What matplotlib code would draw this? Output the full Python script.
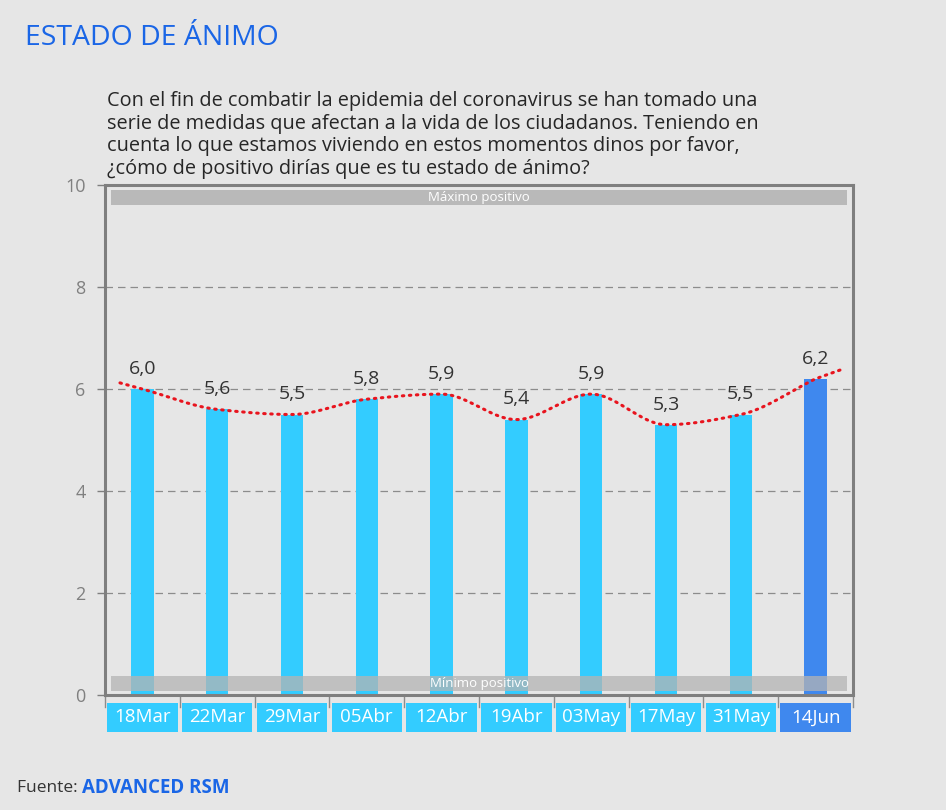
import numpy as np
import matplotlib
matplotlib.use("Agg")
import matplotlib.pyplot as plt
from matplotlib.patches import Rectangle
from matplotlib.transforms import blended_transform_factory

plt.rcParams['font.family'] = ['Open Sans', 'DejaVu Sans']

categories = ["18Mar", "22Mar", "29Mar", "05Abr", "12Abr", "19Abr", "03May", "17May", "31May", "14Jun"]
values = [6.0, 5.6, 5.5, 5.8, 5.9, 5.4, 5.9, 5.3, 5.5, 6.2]
value_labels = ["6,0", "5,6", "5,5", "5,8", "5,9", "5,4", "5,9", "5,3", "5,5", "6,2"]
yticks = [0, 2, 4, 6, 8, 10]

BG = "#e6e6e6"
BAR = "#33ccff"
BAR_LAST = "#3f88ee"
BLUE_T = "#1a66e6"

fig = plt.figure(figsize=(9.46, 8.10), dpi=100, facecolor=BG)
ax = fig.add_axes([105/946, 1-695/810, (853-105)/946, (695-185)/810])
ax.set_facecolor(BG)

x = np.arange(len(values))
colors = [BAR]*(len(values)-1) + [BAR_LAST]
ax.bar(x, values, width=0.3, color=colors, zorder=2)

ax.set_xlim(-0.5, len(values)-0.5)
ax.set_ylim(0, 10)

# grid
for t in yticks[1:-1]:
    ax.axhline(t, color="#8c8c8c", lw=0.9, ls=(0, (6, 4)), zorder=1)

# bands
ax.add_patch(Rectangle((-0.42, 9.61), len(values)-0.16, 0.29, color="#b4b4b4", alpha=0.9, zorder=3, lw=0))
ax.text((len(values)-1)/2, 9.75, "Máximo positivo", color="white", fontsize=9.5, ha="center", va="center", zorder=4)
ax.add_patch(Rectangle((-0.42, 0.08), len(values)-0.16, 0.29, color="#b4b4b4", alpha=0.75, zorder=3, lw=0))
ax.text((len(values)-1)/2, 0.22, "Mínimo positivo", color="white", fontsize=9.5, ha="center", va="center", zorder=4)

# trend line: monotone cubic (Fritsch-Carlson) through the values, extended at ends
v = np.array(values, dtype=float)
n = len(v)
d = np.diff(v)
m = np.zeros(n)
m[0] = d[0]; m[-1] = d[-1]
for i in range(1, n-1):
    if d[i-1]*d[i] <= 0:
        m[i] = 0.0
    else:
        m[i] = 2.0/(1.0/d[i-1] + 1.0/d[i])
xs, ys = [], []
for i in range(n-1):
    t = np.linspace(0, 1, 40, endpoint=False)
    h00 = 2*t**3 - 3*t**2 + 1; h10 = t**3 - 2*t**2 + t
    h01 = -2*t**3 + 3*t**2; h11 = t**3 - t**2
    xs.append(i + t); ys.append(h00*v[i] + h10*m[i] + h01*v[i+1] + h11*m[i+1])
xl = np.linspace(-0.3, 0, 8, endpoint=False)
xr = np.linspace(n-1, n-1+0.35, 9)
xs = np.concatenate([xl] + xs + [xr])
ys = np.concatenate([v[0]+m[0]*xl] + ys + [v[-1]+0.75*m[-1]*(xr-(n-1))])
ax.plot(xs, ys, color="#e8141e", lw=2.2, ls=(0, (0.5, 1.8)), dash_capstyle="round", zorder=5)

# value labels
for xi, vi, lab in zip(x, values, value_labels):
    ax.annotate(lab, (xi, vi), xytext=(0, 8), textcoords="offset points", ha="center", va="bottom",
                fontsize=14, color="#333333", zorder=6)

# spines
for s in ax.spines.values():
    s.set_color("#7f7f7f"); s.set_linewidth(2.2)
ax.set_yticks(yticks)
ax.set_yticklabels([str(t) for t in yticks], fontsize=13, color="#808080")
ax.tick_params(axis="y", length=6, color="#7f7f7f", width=1, pad=8)
ax.set_xticks([])

# category separators and label boxes
tr = blended_transform_factory(ax.transData, ax.transAxes)
for b in np.arange(-0.5, len(values), 1.0):
    ax.plot([b, b], [0, -12/510], transform=tr, color="#8c8c8c", lw=1, clip_on=False)
for xi, c, col in zip(x, categories, colors):
    ax.add_patch(Rectangle((xi-0.47, -37/510), 0.94, 29/510, transform=tr, color=col, clip_on=False, lw=0))
    ax.text(xi, -22.5/510, c, transform=tr, ha="center", va="center", color="white", fontsize=13.5)

# titles
fig.text(25/946, 1-38/810, "ESTADO DE ÁNIMO", color=BLUE_T, fontsize=20.4, ha="left", va="center")
fig.text(107/946, 1-91/810,
         "Con el fin de combatir la epidemia del coronavirus se han tomado una\n"
         "serie de medidas que afectan a la vida de los ciudadanos. Teniendo en\n"
         "cuenta lo que estamos viviendo en estos momentos dinos por favor,\n"
         "¿cómo de positivo dirías que es tu estado de ánimo?",
         color="#262626", fontsize=14.3, ha="left", va="top", linespacing=1.17)

t1 = fig.text(17/946, 1-788/810, "Fuente: ", color="#333333", fontsize=12.5, ha="left", va="center")
fig.canvas.draw()
bb = t1.get_window_extent()
fig.text(bb.x1/946, 1-788/810, "ADVANCED RSM", color=BLUE_T, fontsize=13.5, fontweight="bold", ha="left", va="center")

fig.savefig("out.png", dpi=100, facecolor=BG)
